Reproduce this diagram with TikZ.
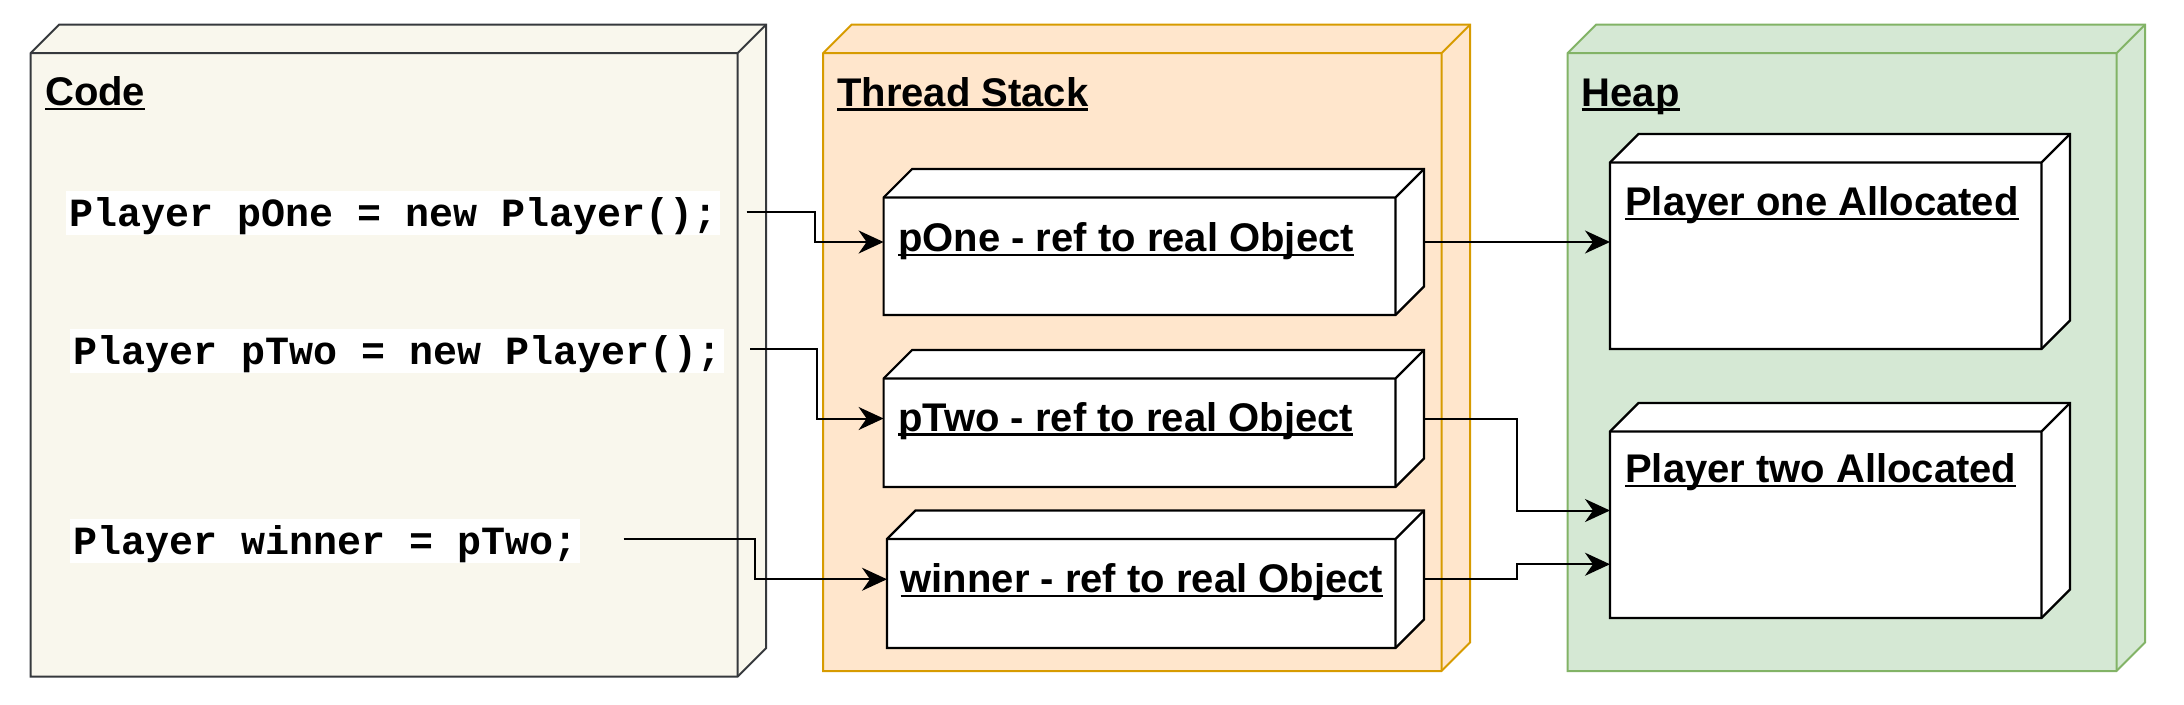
\documentclass[tikz,border=0pt]{standalone}
\usepackage{fontspec}
\setmainfont{Liberation Sans}
\newfontfamily\codefont{Liberation Mono}
\usetikzlibrary{arrows.meta,calc,fit}
\definecolor{codefill}{HTML}{F9F7ED}
\definecolor{codestroke}{HTML}{36393D}
\definecolor{stackfill}{HTML}{FFE6CC}
\definecolor{stackstroke}{HTML}{D79B00}
\definecolor{heapfill}{HTML}{D5E8D4}
\definecolor{heapstroke}{HTML}{82B366}
\newcommand\myul[1]{\setbox0\hbox{#1}\rlap{\rule[-4.5pt]{\wd0}{2.2pt}}\box0}
\newcommand\drawcube[3]{%
  \draw[#3] ([yshift=-#2]#1.north west) -- ([xshift=#2]#1.north west) -- (#1.north east) -- ([yshift=#2]#1.south east) -- ([xshift=-#2]#1.south east) -- (#1.south west) -- cycle;
  \draw[#3,fill=none] ([yshift=-#2]#1.north west) -- ([xshift=-#2,yshift=-#2]#1.north east) -- ([xshift=-#2]#1.south east) (#1.north east) -- ([xshift=-#2,yshift=-#2]#1.north east);
}
\tikzset{
  bbox/.style={inner sep=0pt, outer sep=0pt, draw=none},
  codecube/.style={draw=codestroke, fill=codefill, line width=2pt},
  stackcube/.style={draw=stackstroke, fill=stackfill, line width=2pt},
  heapcube/.style={draw=heapstroke, fill=heapfill, line width=2pt},
  itemcube/.style={draw=black, fill=white, line width=2.2pt},
  title/.style={anchor=base west, inner sep=0pt, font=\fontsize{40}{48}\selectfont\bfseries},
  codeline/.style={anchor=base west, fill=white, inner xsep=3pt, inner ysep=0pt, text height=35.5pt, text depth=8.5pt, font=\codefont\fontsize{40}{48}\selectfont\bfseries},
  arr/.style={line width=2pt, -{Stealth[length=25pt,width=23pt,inset=8pt]}},
}
\begin{document}
\begin{tikzpicture}[x=1pt,y=-1pt]
\useasboundingbox (0,0) rectangle (2184,704);
% geometry nodes
\node[fit={(30.6,24.7) (766,676.7)}, bbox] (code) {};
\node[fit={(823,24.7) (1470,671)}, bbox] (stack) {};
\node[fit={(1567.5,24.7) (2145,671)}, bbox] (heap) {};
\node[fit={(883.6,169) (1424,315)}, bbox] (pone) {};
\node[fit={(883.6,350) (1424,487)}, bbox] (ptwo) {};
\node[fit={(887,510.5) (1424,648)}, bbox] (winner) {};
\node[fit={(1610,134) (2070,349)}, bbox] (hone) {};
\node[fit={(1610,403) (2070,618)}, bbox] (htwo) {};
% cubes
\drawcube{code}{28.5pt}{codecube}
\drawcube{stack}{28.5pt}{stackcube}
\drawcube{heap}{28.5pt}{heapcube}
\drawcube{pone}{28.5pt}{itemcube}
\drawcube{ptwo}{28.5pt}{itemcube}
\drawcube{winner}{28.5pt}{itemcube}
\drawcube{hone}{28.5pt}{itemcube}
\drawcube{htwo}{28.5pt}{itemcube}
% titles
\node[title] (tcode) at (45,105.5) {\myul{Code}};
\node[title] (tstack) at (837,106) {\myul{Thread Stack}};
\node[title] (theap) at (1581.5,106) {\myul{Heap}};
\node[title] (lpone) at (898,251.5) {\myul{pOne - ref to real Object}};
\node[title] (lptwo) at (898,431) {\myul{pTwo - ref to real Object}};
\node[title] (lwin) at (900.5,592.7) {\myul{winner - ref to real Object}};
\node[title] (lhone) at (1625,215.5) {\myul{Player one Allocated}};
\node[title] (lhtwo) at (1625,482.7) {\myul{Player two Allocated}};
% code lines
\node[codeline] (l1) at (66,226.7) {Player pOne = new Player();};
\node[codeline] (l2) at (70,364.6) {Player pTwo = new Player();};
\node[codeline] (l3) at (70,554.5) {Player winner = pTwo;};
% connectors
\coordinate (s1) at (746.7,211.7);
\coordinate (s2) at (750,349.3);
\coordinate (s3) at (623.5,539);
\coordinate (m1) at ($(s1)!0.5!(pone.west)$);
\coordinate (m2) at ($(s2)!0.5!(ptwo.west)$);
\coordinate (m3) at ($(s3)!0.5!(winner.west)$);
\draw[arr] (s1) -| (m1) |- (pone.west);
\draw[arr] (s2) -| (m2) |- (ptwo.west);
\draw[arr] (s3) -| (m3) |- (winner.west);
\draw[arr] (pone.east) -- (pone.east -| hone.west);
\coordinate (m4) at ($(ptwo.east)!0.5!(htwo.west)$);
\draw[arr] (ptwo.east) -| (m4) |- (htwo.west);
\coordinate (t5) at ($(htwo.north west)!0.75!(htwo.south west)$);
\coordinate (m5) at ($(winner.east)!0.5!(t5)$);
\draw[arr] (winner.east) -| (m5) |- (t5);
\end{tikzpicture}
\end{document}
